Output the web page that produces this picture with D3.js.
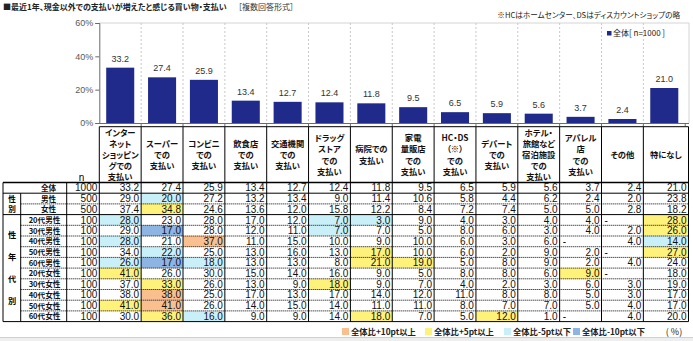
<!DOCTYPE html>
<html><head><meta charset="utf-8">
<script src="https://cdn.jsdelivr.net/npm/d3@7"></script>
<style>
body{margin:0;background:#fff;}
svg{display:block;font-family:"Noto Sans CJK JP","Liberation Sans",sans-serif;font-feature-settings:"palt";}
</style></head><body>
<svg id="c" width="693" height="341"></svg>
<script>
const categories = ["インターネットショッピングでの支払い","スーパーでの支払い","コンビニでの支払い","飲食店での支払い","交通機関での支払い","ドラッグストアでの支払い","病院での支払い","家電量販店での支払い","HC・DS（※）での支払い","デパートでの支払い","ホテル・旅館など宿泊施設での支払い","アパレル店での支払い","その他","特になし"];
const headerLines = [["インター","ネット","ショッピン","グでの","支払い"],["スーパー","での","支払い"],["コンビニ","での","支払い"],["飲食店","での","支払い"],["交通機関","での","支払い"],["ドラッグ","ストア","での","支払い"],["病院での","支払い"],["家電","量販店","での","支払い"],["HC・DS","（※）","での","支払い"],["デパート","での","支払い"],["ホテル・","旅館など","宿泊施設","での","支払い"],["アパレル","店","での","支払い"],["その他"],["特になし"]];
const totals = [33.2,27.4,25.9,13.4,12.7,12.4,11.8,9.5,6.5,5.9,5.6,3.7,2.4,21.0];
const yTicks = [0,20,40,60];
const rowLabels = ["全体","男性","女性","20代男性","30代男性","40代男性","50代男性","60代男性","20代女性","30代女性","40代女性","50代女性","60代女性"];
const rowN = [1000,500,500,100,100,100,100,100,100,100,100,100,100];
const rowValues = [
 [33.2,27.4,25.9,13.4,12.7,12.4,11.8,9.5,6.5,5.9,5.6,3.7,2.4,21.0],
 [29.0,20.0,27.2,13.2,13.4,9.0,11.4,10.6,5.8,4.4,6.2,2.4,2.0,23.8],
 [37.4,34.8,24.6,13.6,12.0,15.8,12.2,8.4,7.2,7.4,5.0,5.0,2.8,18.2],
 [28.0,23.0,28.0,17.0,12.0,7.0,3.0,9.0,4.0,3.0,4.0,4.0,null,28.0],
 [29.0,17.0,28.0,12.0,11.0,7.0,7.0,5.0,8.0,6.0,3.0,4.0,2.0,26.0],
 [28.0,21.0,37.0,11.0,15.0,10.0,9.0,10.0,6.0,3.0,6.0,null,4.0,14.0],
 [34.0,22.0,25.0,13.0,16.0,13.0,17.0,10.0,6.0,2.0,9.0,2.0,null,27.0],
 [26.0,17.0,18.0,13.0,13.0,8.0,21.0,19.0,5.0,8.0,9.0,2.0,4.0,24.0],
 [41.0,26.0,30.0,15.0,14.0,16.0,9.0,5.0,8.0,8.0,6.0,9.0,null,18.0],
 [37.0,33.0,26.0,13.0,9.0,18.0,9.0,7.0,4.0,2.0,3.0,6.0,3.0,19.0],
 [38.0,38.0,25.0,17.0,13.0,17.0,14.0,12.0,11.0,8.0,8.0,5.0,3.0,17.0],
 [41.0,41.0,26.0,14.0,15.0,14.0,11.0,11.0,8.0,7.0,7.0,5.0,4.0,17.0],
 [30.0,36.0,16.0,9.0,9.0,14.0,18.0,7.0,5.0,12.0,1.0,null,4.0,20.0]
];
// 0 none, 1 +10pt, 2 +5pt, 3 -5pt, 4 -10pt (as marked in the picture)
const highlights = [
 [0,0,0,0,0,0,0,0,0,0,0,0,0,0],
 [0,3,0,0,0,0,0,0,0,0,0,0,0,0],
 [0,2,0,0,0,0,0,0,0,0,0,0,0,0],
 [3,0,0,0,0,3,3,0,0,0,0,0,0,2],
 [0,4,0,0,0,3,0,0,0,0,0,0,0,2],
 [3,0,1,0,0,0,0,0,0,0,0,0,0,3],
 [0,3,0,0,0,0,2,0,0,0,0,0,0,2],
 [3,4,3,0,0,0,2,2,0,0,0,0,0,0],
 [2,0,0,0,0,0,0,0,0,0,0,2,0,0],
 [0,2,0,0,0,2,0,0,0,0,0,0,0,0],
 [0,1,0,0,0,0,0,0,0,0,0,0,0,0],
 [2,1,0,0,0,0,0,0,0,0,0,0,0,0],
 [0,2,3,0,0,0,2,0,0,2,0,0,0,0]
];
const legendLabels = ["全体比+10pt以上","全体比+5pt以上","全体比-5pt以下","全体比-10pt以下"];
const hlColors = [null,"#FABF8F","#FFF27A","#C9F0F9","#8DB4E2"];

const svg = d3.select("#c");
const NUM = "'Liberation Sans',Arial,sans-serif";
const plotL=99.3, plotR=689, plotT=23, plotB=123;
const x = d3.scaleBand().domain(categories).range([plotL, plotL+41.85*categories.length]).paddingInner(0.33).paddingOuter(0.165);
const step = x.step();
const y = d3.scaleLinear().domain([0,60]).range([plotB, plotT]);
const colLeft = i => plotL + i*step;
const tableR = 688.5;
const colRight = i => i === categories.length-1 ? tableR : colLeft(i+1);

// title & notes
svg.append("text").attr("x",3).attr("y",10).attr("font-size",8).attr("font-weight","bold").attr("fill","#222")
  .text("■最近1年、現金以外での支払いが増えたと感じる買い物・支払い");
svg.append("text").attr("x",238).attr("y",10).attr("font-size",8).attr("fill","#333").text("［複数回答形式］");
svg.append("text").attr("x",680).attr("y",18).attr("font-size",7.6).attr("text-anchor","end").attr("fill","#222")
  .text("※HCはホームセンター、DSはディスカウントショップの略");

// plot frame and gridlines
svg.append("line").attr("x1",plotL).attr("x2",plotR).attr("y1",plotT).attr("y2",plotT).attr("stroke","#d4d4d4");
svg.append("line").attr("x1",plotR).attr("x2",plotR).attr("y1",plotT).attr("y2",plotB).attr("stroke","#d4d4d4");
svg.append("g").selectAll("line").data(d3.range(1,categories.length)).join("line")
  .attr("x1",i=>colLeft(i)).attr("x2",i=>colLeft(i)).attr("y1",plotT).attr("y2",plotB)
  .attr("stroke","#c8c8c8").attr("stroke-dasharray","2,2");

// bars
svg.append("g").selectAll("rect").data(categories).join("rect")
  .attr("x",c=>x(c)).attr("width",x.bandwidth())
  .attr("y",(c,i)=>y(totals[i])).attr("height",(c,i)=>plotB-y(totals[i]))
  .attr("fill","#1F2A8A");
svg.append("g").selectAll("text").data(categories).join("text")
  .attr("x",c=>x(c)+x.bandwidth()/2).attr("y",(c,i)=>y(totals[i])-6)
  .attr("text-anchor","middle").attr("font-size",9).attr("font-family",NUM).attr("fill","#333")
  .text((c,i)=>d3.format(".1f")(totals[i]));

// axes
const ya = svg.append("g").attr("transform",`translate(${plotL},0)`)
  .call(d3.axisLeft(y).tickValues(yTicks).tickFormat(d=>d+"%").tickSize(4).tickPadding(2));
ya.selectAll("text").attr("font-size",9).attr("font-family",NUM).attr("fill","#595959");
ya.selectAll("line,path").attr("stroke","#6a6a6a");
const xa = svg.append("g").attr("transform",`translate(0,${plotB})`)
  .call(d3.axisBottom(x).tickFormat("").tickSizeInner(3).tickSizeOuter(0));
xa.selectAll(".tick line").attr("x1",step/2).attr("x2",step/2).attr("stroke","#6a6a6a");
xa.select(".domain").attr("stroke","#6a6a6a");
svg.append("line").attr("x1",plotL).attr("x2",plotR).attr("y1",plotB+0.5).attr("y2",plotB+0.5).attr("stroke","#6a6a6a");

// legend (top right)
svg.append("rect").attr("x",607).attr("y",31).attr("width",4.5).attr("height",4.5).attr("fill","#1F2A8A");
svg.append("text").attr("x",613).attr("y",36).attr("font-size",8).attr("fill","#222").text("全体[ n=1000 ]");

// ---- table ----
const tblL=3, grpR=20.7, lblR=66.7, nR=plotL;
const headT=126.7, headB=182.5, rowH=10.7;
const rowTop = r => headB + r*rowH;
const tblB = rowTop(rowLabels.length);
const T = svg.append("g");

// header text
headerLines.forEach((lines,i)=>{
  const cx = (colLeft(i)+colRight(i))/2;
  const n = lines.length, lh = 11.1, cy = 155;
  const t = T.append("text").attr("text-anchor","middle").attr("font-size",8.3).attr("font-weight","bold").attr("fill","#111");
  lines.forEach((l,k)=>{
    t.append("tspan").attr("x",cx).attr("y",cy-(n-1)*lh/2+k*lh+3).text(l);
  });
});
T.append("text").attr("x",81.5).attr("y",181).attr("font-size",10).attr("font-family",NUM).attr("text-anchor","middle").text("n");

// cell fills
rowValues.forEach((row,r)=>{
  row.forEach((v,i)=>{
    const h = highlights[r][i];
    if(h){
      T.append("rect").attr("x",colLeft(i)).attr("y",rowTop(r)).attr("width",colRight(i)-colLeft(i)).attr("height",rowH).attr("fill",hlColors[h]);
    }
  });
});

// lines
const L = (x1,y1,x2,y2,w,dash)=>{const l=T.append("line").attr("x1",x1).attr("y1",y1).attr("x2",x2).attr("y2",y2).attr("stroke","#000").attr("stroke-width",w||1); if(dash) l.attr("stroke-dasharray",dash); return l;};
L(plotL,headT,tableR,headT);
for(let i=0;i<=categories.length;i++){
  const xx = i===categories.length?tableR:colLeft(i);
  L(xx,headT,xx,tblB);
}
L(tblL,headB,tableR,headB,1.6);
L(tblL,headB,tblL,tblB);
L(lblR,headB,lblR,tblB);
L(grpR,rowTop(1),grpR,tblB);
for(let r=1;r<=rowLabels.length;r++){
  const yy=rowTop(r);
  if(r===1||r===3||r===rowLabels.length) L(tblL,yy,tableR,yy);
  else L(grpR,yy,tableR,yy,1,"1,1");
}

// row labels
const LBL = 7.6;
rowLabels.forEach((lab,r)=>{
  const cy=rowTop(r)+rowH/2;
  const cx = r<3?48.5:44.5;
  T.append("text").attr("x",cx).attr("y",cy+3).attr("text-anchor","middle").attr("font-size",LBL).attr("font-weight","bold").attr("fill","#111").text(lab);
  T.append("text").attr("x",nR-2).attr("y",cy+3.6).attr("text-anchor","end").attr("font-size",10).attr("font-family",NUM).attr("fill","#111").text(rowN[r]);
});
// group labels
[["性",1],["別",2]].forEach(([ch,r])=>{
  T.append("text").attr("x",12).attr("y",rowTop(r)+rowH/2+3).attr("text-anchor","middle").attr("font-size",LBL).attr("font-weight","bold").text(ch);
});
["性","年","代","別"].forEach((ch,k)=>{
  const cy = 235 + k*22;
  T.append("text").attr("x",12).attr("y",cy+3).attr("text-anchor","middle").attr("font-size",LBL+0.6).attr("font-weight","bold").text(ch);
});

// values
rowValues.forEach((row,r)=>{
  const cy=rowTop(r)+rowH/2;
  row.forEach((v,i)=>{
    if(v===null){
      T.append("text").attr("x",colLeft(i)+3).attr("y",cy+3.6).attr("font-size",10).attr("font-family",NUM).text("-");
    } else {
      T.append("text").attr("x",colRight(i)-2).attr("y",cy+3.6).attr("text-anchor","end").attr("font-size",10).attr("font-family",NUM).attr("fill","#111").text(d3.format(".1f")(v));
    }
  });
});

// bottom legend
const legX = [342,425,504,573];
legendLabels.forEach((lab,k)=>{
  svg.append("rect").attr("x",legX[k]).attr("y",328).attr("width",7).attr("height",7).attr("fill",hlColors[k+1]);
  svg.append("text").attr("x",legX[k]+9).attr("y",334.5).attr("font-size",8.3).attr("font-weight","bold").attr("fill","#222").text(lab);
});
svg.append("text").attr("x",674).attr("y",334.5).attr("text-anchor","middle").attr("font-size",9).attr("fill","#222").text("( %)");

// bottom frame strip
svg.append("rect").attr("x",0).attr("y",337.5).attr("width",693).attr("height",4).attr("fill","#eeeeee");
svg.append("line").attr("x1",0).attr("x2",693).attr("y1",337.5).attr("y2",337.5).attr("stroke","#d0d0d0");
</script></body></html>
